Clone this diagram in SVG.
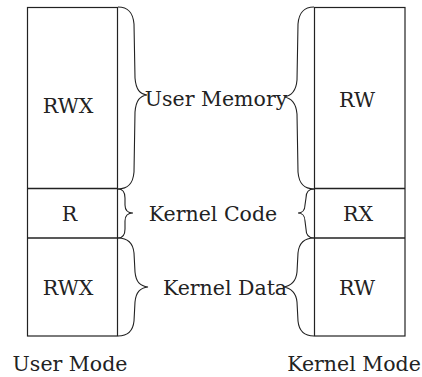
<svg xmlns="http://www.w3.org/2000/svg" width="422" height="377" viewBox="0 0 422 377">
<style>
.box{fill:#fff;stroke:#222;stroke-width:1.2}
.ln{stroke:#222;stroke-width:1.4}
.br{fill:none;stroke:#222;stroke-width:1.1}
.t{font-size:20.5px;fill:#222;text-anchor:middle}
</style>
<rect width="422" height="377" fill="#fff"/>
<g id="user-mode">
<rect class="box" x="27.5" y="7.5" width="90" height="328.5"/>
<line class="ln" x1="27.5" y1="188.5" x2="117.5" y2="188.5"/>
<line class="ln" x1="27.5" y1="238" x2="117.5" y2="238"/>
<text class="t" font-family="DejaVu Serif, serif" x="68" y="113">RWX</text>
<text class="t" font-family="DejaVu Serif, serif" x="69.5" y="221">R</text>
<text class="t" font-family="DejaVu Serif, serif" x="68" y="295">RWX</text>
<text class="t" font-family="DejaVu Serif, serif" x="70" y="371">User Mode</text>
</g>
<g id="kernel-mode">
<rect class="box" x="314.5" y="7.5" width="90.5" height="328.5"/>
<line class="ln" x1="314.5" y1="188.5" x2="405" y2="188.5"/>
<line class="ln" x1="314.5" y1="238" x2="405" y2="238"/>
<text class="t" font-family="DejaVu Serif, serif" x="357" y="107">RW</text>
<text class="t" font-family="DejaVu Serif, serif" x="358" y="221">RX</text>
<text class="t" font-family="DejaVu Serif, serif" x="357" y="295">RW</text>
<text class="t" font-family="DejaVu Serif, serif" x="354" y="371">Kernel Mode</text>
</g>
<g id="braces">
<path class="br" d="M118,7 C128,7 133,12 134,24 L135,78 C136,90 140,94 147,95 C140,96 136,100 135,112 L134,172 C133,184 128,189 118,189"/>
<path class="br" d="M314,7 C304,7 299,12 298,24 L297,80 C296,92 291,96 284,97 C291,98 296,102 297,114 L298,172 C299,184 304,189 314,189"/>
<path class="br" d="M118,189 C123,189 125,192 125,198 L125,205 C125,210 128,213 133,213 C128,213 125,216 125,221 L125,229 C125,235 123,238 118,238"/>
<path class="br" d="M314,189 C309,189 306,192 306,198 L305,205 C305,210 302,213 298,213 C302,213 305,216 305,221 L306,229 C306,235 309,238 314,238"/>
<path class="br" d="M118,238 C128,238 133,243 134,253 L135,272 C136,282 140,286 148,287 C140,288 136,292 135,302 L134,321 C133,331 128,336 118,336"/>
<path class="br" d="M314,238 C304,238 299,243 298,253 L297,272 C296,282 291,286 283,287 C291,288 296,292 297,302 L298,321 C299,331 304,336 314,336"/>
</g>
<g id="labels">
<text class="t" font-family="DejaVu Serif, serif" x="216" y="106">User Memory</text>
<text class="t" font-family="DejaVu Serif, serif" x="213" y="221">Kernel Code</text>
<text class="t" font-family="DejaVu Serif, serif" x="225" y="295">Kernel Data</text>
</g>
</svg>
